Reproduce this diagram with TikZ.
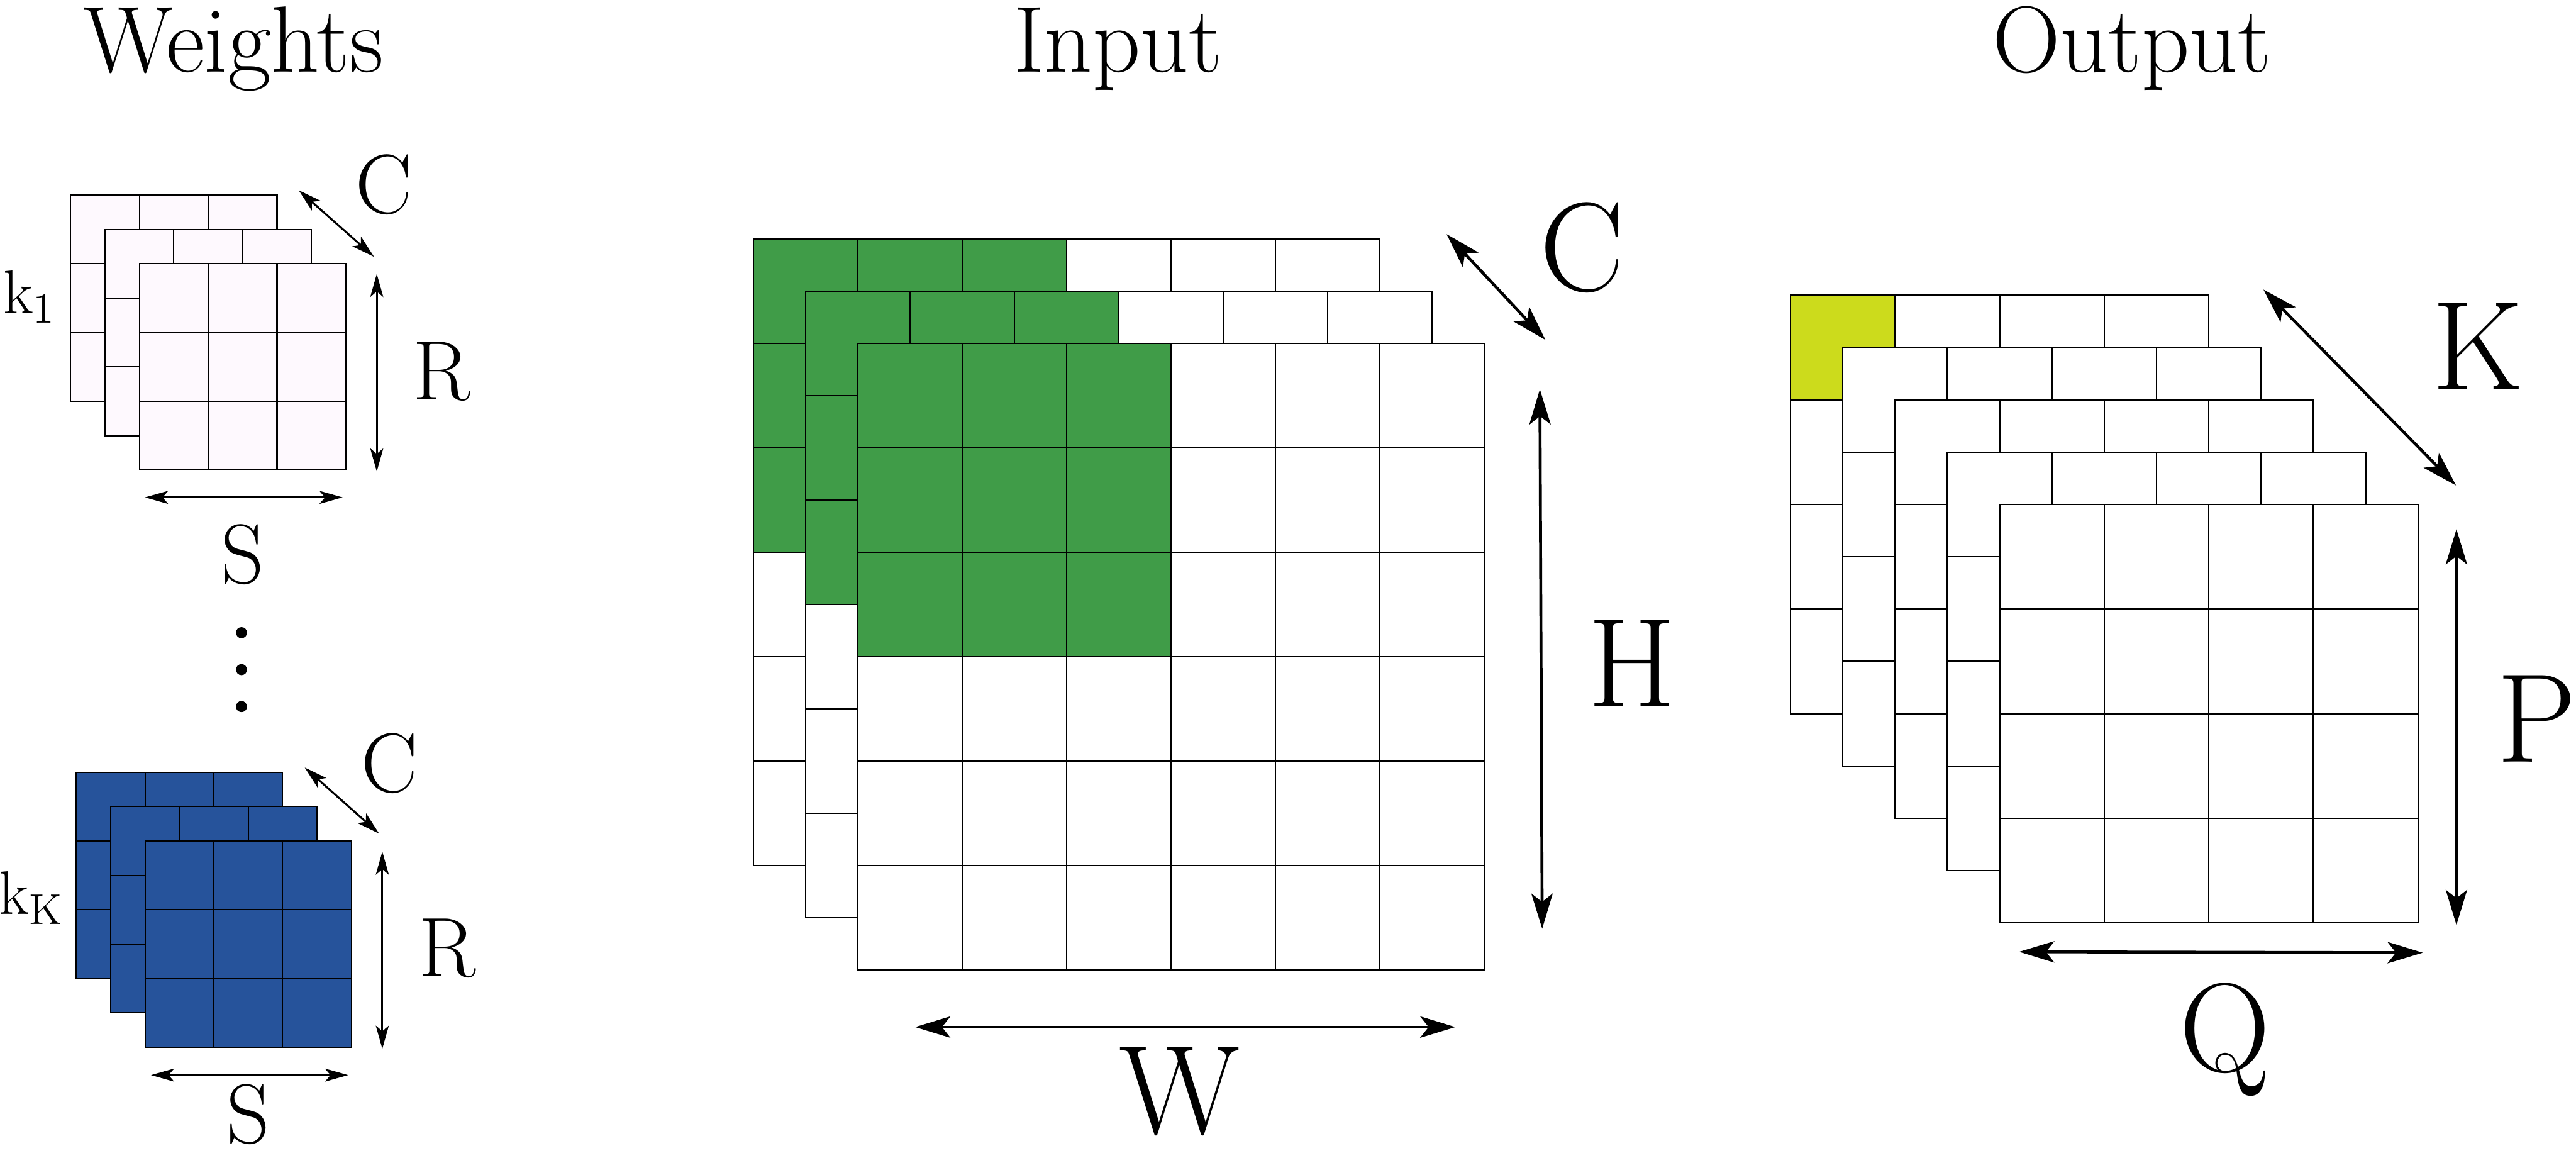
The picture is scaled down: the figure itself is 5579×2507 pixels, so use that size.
\documentclass[tikz,border=0pt]{standalone}
\usetikzlibrary{arrows.meta}
\definecolor{wpink}{RGB}{254,249,254}
\definecolor{wblue}{RGB}{38,83,155}
\definecolor{ingreen}{RGB}{64,156,72}
\definecolor{outyellow}{RGB}{204,219,28}

\begin{document}
\begin{tikzpicture}[
  x=0.05mm, y=-0.05mm,
  cell/.style={draw=black, line width=0.4pt},
  title/.style={font=\fontsize{29}{35}\selectfont, anchor=base, inner sep=0pt},
  lbl/.style={font=\fontsize{26}{31}\selectfont, anchor=base, inner sep=0pt},
  biglbl/.style={font=\fontsize{39}{46}\selectfont, anchor=base, inner sep=0pt},
  klbl/.style={font=\fontsize{19}{23}\selectfont, anchor=base west, inner sep=0pt},
  arr/.style={{Stealth[length=2.5mm,width=1.4mm,inset=0.6mm]}-{Stealth[length=2.5mm,width=1.4mm,inset=0.6mm]}, line width=0.6pt},
  bigarr/.style={{Stealth[length=3.8mm,width=2.3mm,inset=0.9mm]}-{Stealth[length=3.8mm,width=2.3mm,inset=0.9mm]}, line width=0.9pt}
]
\useasboundingbox (0,0) rectangle (5579,2507);

% titles
\node[title] (tweights) at (506,156) {Weights};
\node[title] (tinput) at (2421,156) {Input};
\node[title] (toutput) at (4617,156) {Output};

% weights: k_1 (top) and k_K (bottom), 3 channels of 3x3
\foreach \x/\y/\col in {153/422/wpink, 165/1672/wblue}
  \foreach \l in {0,1,2}
    \foreach \i in {0,1,2}
      \foreach \j in {0,1,2}
        \draw[cell, fill=\col] ({\x+74.5*\l+149*\i},{\y+74.5*\l+149*\j}) rectangle +(149,149);

\node[klbl] (k1) at (6,679) {k\textsubscript{1}};
\node[lbl] (c1) at (831,463) {C};
\node[lbl] (r1) at (956,865) {R};
\node[lbl] (s1) at (525,1263) {S};
\draw[arr] (647,412) -- (810,556);
\draw[arr] (816,593) -- (816,1021);
\draw[arr] (314,1077) -- (742,1077);

\fill (523,1370) circle (0.6mm);
\fill (523,1450) circle (0.6mm);
\fill (523,1530) circle (0.6mm);

\node[klbl] (kk) at (-3,1980) {k\textsubscript{K}};
\node[lbl] (c2) at (843,1716) {C};
\node[lbl] (r2) at (968,2115) {R};
\node[lbl] (s2) at (538,2476) {S};
\draw[arr] (660,1662) -- (821,1805);
\draw[arr] (828,1844) -- (828,2271);
\draw[arr] (327,2328) -- (754,2328);

% input: 3 channels of 6x6, window 3x3
\foreach \l in {0,1,2}{
  \fill[white] ({1632+113*\l},{518+113*\l}) rectangle +(1356,1356);
  \fill[ingreen] ({1632+113*\l},{518+113*\l}) rectangle +(678,678);
  \foreach \i in {0,...,5}
    \foreach \j in {0,...,5}
      \draw[cell] ({1632+113*\l+226*\i},{518+113*\l+226*\j}) rectangle +(226,226);
}
\node[biglbl] (cin) at (3426,630) {C};
\node[biglbl] (hin) at (3535,1530) {H};
\node[biglbl] (win) at (2555,2455) {W};
\draw[bigarr] (3133,507) -- (3347,736);
\draw[bigarr] (3335,843) -- (3340,2011);
\draw[bigarr] (1982,2224) -- (3152,2224);

% output: K maps of 4x4
\foreach \l in {0,...,4}{
  \fill[white] ({3877.6+113.25*\l},{639.3+113.25*\l}) rectangle +(906,906);
  \ifnum\l=0 \fill[outyellow] (3877.6,639.3) rectangle +(226.5,226.5); \fi
  \foreach \i in {0,...,3}
    \foreach \j in {0,...,3}
      \draw[cell] ({3877.6+113.25*\l+226.5*\i},{639.3+113.25*\l+226.5*\j}) rectangle +(226.5,226.5);
}
\node[biglbl] (kout) at (5366,844) {K};
\node[biglbl] (pout) at (5494,1650) {P};
\node[biglbl] (qout) at (4819,2320) {Q};
\draw[bigarr] (4902,627) -- (5319,1051);
\draw[bigarr] (5320,1146) -- (5320,2003);
\draw[bigarr] (4373,2061) -- (5247,2063);
\end{tikzpicture}
\end{document}
